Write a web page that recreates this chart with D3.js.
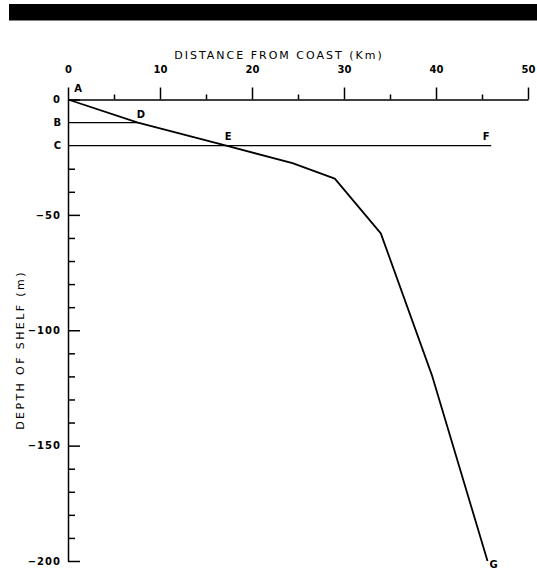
<!DOCTYPE html>
<html>
<head>
<meta charset="utf-8">
<script src="https://cdn.jsdelivr.net/npm/d3@7"></script>
<style>
  body { margin: 0; background: #fff; }
  text { font-family: "DejaVu Sans", sans-serif; fill: #000; }
</style>
</head>
<body>
<svg id="shelf"></svg>
<script>
// values
var xMajorTicks = [0, 10, 20, 30, 40, 50];
var xMinorTicks = [5, 15, 25, 35, 45];
var yMajorTicks = [0, -50, -100, -150, -200];
var yMinorTicks = [-30, -40, -60, -70, -80, -90, -110, -120, -130, -140, -160, -170, -180, -190];

// shelf profile A ... G
var profileKm = [0, 7.6, 17.2, 24.4, 29, 34, 39.6, 45.6];
var profileDepth = [0, -10, -20, -27.6, -34.3, -58, -120, -200];

// levels B and C
var levelNames = ["B", "C"];
var levelDepth = [-10, -20];
var levelEndKm = [7.6, 46];

// lettered points
var pointNames = ["A", "D", "E", "F", "G"];
var pointKm = [0, 7.6, 17.2, 46, 45.6];
var pointDepth = [0, -10, -20, -20, -200];

var svgWidth = 537, svgHeight = 571;

var svg = d3.select("#shelf")
	.attr("width", svgWidth)
	.attr("height", svgHeight);

var x = d3.scaleLinear().domain([0, 50]).range([68, 528]);
var y = d3.scaleLinear().domain([-200, 0]).range([561, 99.5]);

// black band at top of the page
svg.append("rect")
	.attr("x", 9).attr("y", 4)
	.attr("width", 528).attr("height", 16.5)
	.attr("fill", "#000");

function styleAxis(g) {
	g.attr("font-family", null).attr("font-size", null);
	g.selectAll("path, line").attr("stroke", "#000").attr("stroke-width", 1.5);
	g.selectAll("text").attr("font-size", 10).attr("font-weight", "bold");
}

// x axis (on top, ticks pointing up)
svg.append("g")
	.attr("transform", "translate(0," + y(0) + ")")
	.call(d3.axisTop(x).tickValues(xMinorTicks).tickSize(5).tickFormat(""))
	.call(function(g) { g.select(".domain").remove(); })
	.call(styleAxis);

svg.append("g")
	.attr("transform", "translate(0," + y(0) + ")")
	.call(d3.axisTop(x).tickValues(xMajorTicks).tickSize(12).tickSizeOuter(0).tickPadding(15)
		.tickFormat(function(d) { return d; }))
	.call(styleAxis);

// y axis (ticks pointing right, labels on left)
svg.append("g")
	.attr("transform", "translate(" + x(0) + ",0)")
	.call(d3.axisLeft(y).tickValues(yMinorTicks).tickSize(-7).tickFormat(""))
	.call(function(g) { g.select(".domain").remove(); })
	.call(styleAxis);

svg.append("g")
	.attr("transform", "translate(" + x(0) + ",0)")
	.call(d3.axisLeft(y).tickValues(yMajorTicks).tickSize(-12).tickSizeOuter(0).tickPadding(7)
		.tickFormat(function(d) { return d === 0 ? "0" : "\u2212" + Math.abs(d); }))
	.call(styleAxis)
	.call(function(g) { g.selectAll("text").attr("letter-spacing", 1); });

// B and C levels
svg.selectAll(".level")
	.data(levelNames)
	.enter().append("line")
	.attr("class", "level")
	.attr("x1", x(0))
	.attr("x2", function(d, i) { return x(levelEndKm[i]); })
	.attr("y1", function(d, i) { return y(levelDepth[i]); })
	.attr("y2", function(d, i) { return y(levelDepth[i]); })
	.attr("stroke", "#000")
	.attr("stroke-width", 1.3);

svg.selectAll(".levelLabel")
	.data(levelNames)
	.enter().append("text")
	.attr("class", "levelLabel")
	.attr("x", x(0) - 7)
	.attr("y", function(d, i) { return y(levelDepth[i]); })
	.attr("dy", "0.35em")
	.attr("text-anchor", "end")
	.attr("font-size", 10)
	.attr("font-weight", "bold")
	.text(function(d) { return d; });

// shelf profile
var line = d3.line()
	.x(function(d, i) { return x(profileKm[i]); })
	.y(function(d, i) { return y(profileDepth[i]); });

svg.append("path")
	.datum(profileKm)
	.attr("d", line)
	.attr("fill", "none")
	.attr("stroke", "#000")
	.attr("stroke-width", 1.8)
	.attr("stroke-linejoin", "round");

// point letters
var labelOffset = {A: [10, -11], D: [3, -8], E: [2, -9], F: [-5, -9], G: [6, 3]};
svg.selectAll(".pointLabel")
	.data(pointNames)
	.enter().append("text")
	.attr("class", "pointLabel")
	.attr("x", function(d, i) { return x(pointKm[i]) + labelOffset[d][0]; })
	.attr("y", function(d, i) { return y(pointDepth[i]) + labelOffset[d][1]; })
	.attr("dy", "0.35em")
	.attr("text-anchor", "middle")
	.attr("font-size", 10)
	.attr("font-weight", "bold")
	.text(function(d) { return d; });

// axis titles
svg.append("text")
	.attr("x", 279)
	.attr("y", 55)
	.attr("dy", "0.35em")
	.attr("text-anchor", "middle")
	.attr("font-size", 11)
	.attr("letter-spacing", 2)
	.text("DISTANCE FROM COAST  (Km)");

svg.append("text")
	.attr("transform", "translate(20,350) rotate(-90)")
	.attr("dy", "0.35em")
	.attr("text-anchor", "middle")
	.attr("font-size", 11)
	.attr("letter-spacing", 2.4)
	.text("DEPTH OF SHELF (m)");
</script>
</body>
</html>
